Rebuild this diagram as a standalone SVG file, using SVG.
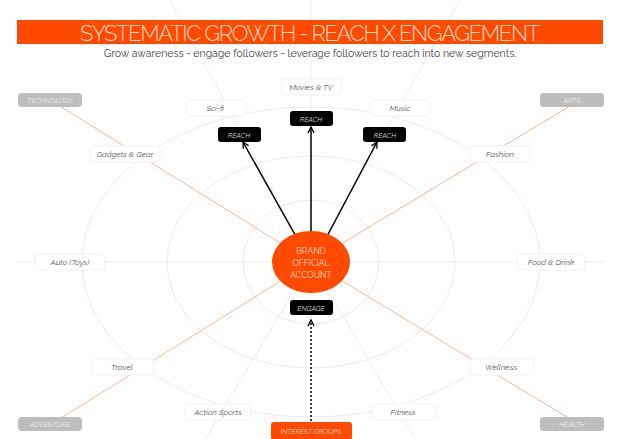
<svg xmlns="http://www.w3.org/2000/svg" width="620" height="439" viewBox="0 0 620 439">
<style>
text{font-family:"Raleway","Lato","Liberation Sans",sans-serif}
.lbl{font-size:8px;font-style:italic;fill:#555;text-anchor:middle}
.pill{fill:#fff;stroke:#f2f2f2;stroke-width:1}
.tag{fill:#bdbdbd}
.tagt{font-size:7px;font-style:italic;fill:#eee;text-anchor:middle}
.blk{fill:#000}
.blkt{font-size:7px;font-style:italic;fill:#ddd;text-anchor:middle}
.ring{fill:none;stroke:#ececec;stroke-width:1}
.spoke{stroke:#ececec;stroke-width:1}
.red{stroke:#f4a08a;stroke-width:0.8}
</style>
<defs>
<marker id="ah" markerWidth="8" markerHeight="8" refX="7" refY="4" orient="auto" markerUnits="userSpaceOnUse"><path d="M1,1 L7,4 L1,7" fill="none" stroke="#000" stroke-width="1.3"/></marker>
</defs>
<rect width="620" height="439" fill="#fff"/>
<g id="background">
<line class="spoke" x1="311" y1="0" x2="311" y2="439"/>
<line class="spoke" x1="311" y1="262" x2="170" y2="0"/>
<line class="spoke" x1="311" y1="262" x2="460" y2="0"/>
<line class="spoke" x1="311" y1="262" x2="205" y2="439"/>
<line class="spoke" x1="311" y1="262" x2="415" y2="439"/>
<line class="spoke" x1="15" y1="262" x2="605" y2="262"/>
<ellipse class="ring" cx="311" cy="262" rx="68" ry="62"/>
<ellipse class="ring" cx="311" cy="262" rx="144" ry="106"/>
<ellipse class="ring" cx="311" cy="262" rx="229" ry="155"/>
<line class="red" x1="50" y1="100" x2="311" y2="262"/>
<line class="red" x1="580" y1="100" x2="311" y2="262"/>
<line class="red" x1="50" y1="425" x2="311" y2="262"/>
<line class="red" x1="580" y1="425" x2="311" y2="262"/>
</g>
<g id="title">
<rect x="17" y="20" width="586" height="24" fill="#ff4a00"/>
<text x="310" y="41" font-size="22" font-weight="300" fill="#ffd9c8" text-anchor="middle" textLength="460">SYSTEMATIC GROWTH - REACH X ENGAGEMENT</text>
<text x="310" y="57" font-size="10.5" fill="#444" text-anchor="middle">Grow awareness - engage followers - leverage followers to reach into new segments.</text>
</g>
<g id="connectors">
<line x1="298" y1="240" x2="243" y2="142" stroke="#000" stroke-width="1.5" marker-end="url(#ah)"/>
<line x1="311" y1="235" x2="311" y2="127" stroke="#000" stroke-width="1.5" marker-end="url(#ah)"/>
<line x1="325" y1="240" x2="377" y2="142" stroke="#000" stroke-width="1.5" marker-end="url(#ah)"/>
<line x1="311" y1="421" x2="311" y2="320" stroke="#000" stroke-width="1.5" stroke-dasharray="2,2" marker-end="url(#ah)"/>
</g>
<g id="n-movies"><rect class="pill" x="281" y="79" width="60" height="16" rx="4"/><text class="lbl" x="311" y="90">Movies &amp; TV</text></g>
<g id="n-scifi"><rect class="pill" x="186" y="100" width="60" height="16" rx="4"/><text class="lbl" x="215" y="111">Sci-fi</text></g>
<g id="n-music"><rect class="pill" x="370" y="100" width="60" height="16" rx="4"/><text class="lbl" x="400" y="111">Music</text></g>
<g id="n-gadgets"><rect class="pill" x="90" y="146" width="70" height="16" rx="4"/><text class="lbl" x="125" y="157">Gadgets &amp; Gear</text></g>
<g id="n-fashion"><rect class="pill" x="470" y="146" width="60" height="16" rx="4"/><text class="lbl" x="500" y="157">Fashion</text></g>
<g id="n-auto"><rect class="pill" x="35" y="254" width="70" height="16" rx="4"/><text class="lbl" x="70" y="265">Auto (Toys)</text></g>
<g id="n-food"><rect class="pill" x="517" y="254" width="68" height="16" rx="4"/><text class="lbl" x="551" y="265">Food &amp; Drink</text></g>
<g id="n-travel"><rect class="pill" x="92" y="359" width="62" height="16" rx="4"/><text class="lbl" x="122" y="370">Travel</text></g>
<g id="n-wellness"><rect class="pill" x="470" y="359" width="64" height="16" rx="4"/><text class="lbl" x="501" y="370">Wellness</text></g>
<g id="n-action"><rect class="pill" x="185" y="404" width="66" height="16" rx="4"/><text class="lbl" x="218" y="415">Action Sports</text></g>
<g id="n-fitness"><rect class="pill" x="372" y="404" width="64" height="16" rx="4"/><text class="lbl" x="403" y="415">Fitness</text></g>
<g id="t-tech"><rect class="tag" x="18" y="93" width="64" height="14" rx="4"/><text class="tagt" x="50" y="103">TECHNOLOGY</text></g>
<g id="t-arts"><rect class="tag" x="540" y="93" width="64" height="14" rx="4"/><text class="tagt" x="572" y="103">ARTS</text></g>
<g id="t-adv"><rect class="tag" x="18" y="417" width="64" height="14" rx="4"/><text class="tagt" x="50" y="427">ADVENTURE</text></g>
<g id="t-health"><rect class="tag" x="540" y="417" width="64" height="14" rx="4"/><text class="tagt" x="572" y="427">HEALTH</text></g>
<g id="reach1"><rect class="blk" x="218" y="127" width="43" height="15" rx="3"/><text class="blkt" x="239" y="137.5">REACH</text></g>
<g id="reach2"><rect class="blk" x="290" y="111" width="43" height="15" rx="3"/><text class="blkt" x="311" y="121.5">REACH</text></g>
<g id="reach3"><rect class="blk" x="363" y="127" width="43" height="15" rx="3"/><text class="blkt" x="385" y="137.5">REACH</text></g>
<g id="engage"><rect class="blk" x="290" y="300" width="43" height="15" rx="3"/><text class="blkt" x="311" y="310.5">ENGAGE</text></g>
<g id="brand"><ellipse cx="311" cy="262" rx="39" ry="31" fill="#ff4a00"/>
<text x="311" y="254" font-size="8.5" fill="#ffd9c8" text-anchor="middle">BRAND</text>
<text x="311" y="266" font-size="8.5" fill="#ffd9c8" text-anchor="middle">OFFICIAL</text>
<text x="311" y="278" font-size="8.5" fill="#ffd9c8" text-anchor="middle">ACCOUNT</text></g>
<g id="interest"><rect x="271" y="422" width="81" height="18" rx="3" fill="#ff4a00"/><text x="311" y="434" font-size="7" font-style="italic" fill="#ffd9c8" text-anchor="middle">INTEREST GROUPS</text></g>
</svg>
